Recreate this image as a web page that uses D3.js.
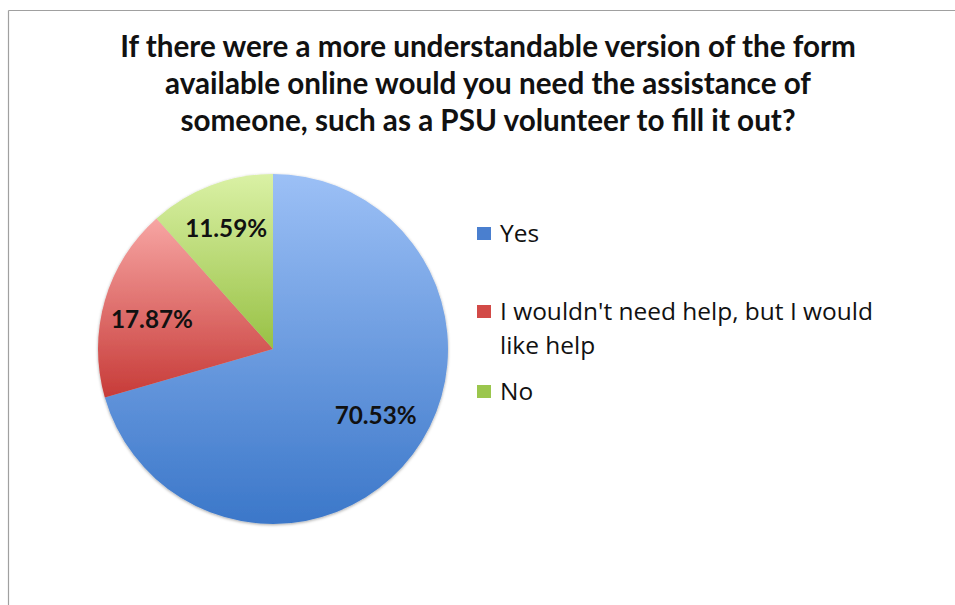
<!DOCTYPE html>
<html><head><meta charset="utf-8">
<script src="https://cdn.jsdelivr.net/npm/d3@7"></script>
<style>body{margin:0;background:#fff}svg{display:block}</style>
</head><body>
<script>
const categories = ["Yes", "I wouldn't need help, but I would like help", "No"];
const values = [70.53, 17.87, 11.59];
const labels = ["70.53%", "17.87%", "11.59%"];
const legendLines = [["Yes"], ["I wouldn't need help, but I would", "like help"], ["No"]];
const titleLines = ["If there were a more understandable version of the form",
  "available online would you need the assistance of",
  "someone, such as a PSU volunteer to fill it out?"];
const colorsLight = ["#9cc0f6", "#f7a5a3", "#daf1a5"];
const colorsDark = ["#3b77c9", "#c73b38", "#98c145"];
const colorsLegend = ["#4a7fcf", "#d24a47", "#9bc64d"];

const W = 955, H = 605;
const svg = d3.select("body").append("svg").attr("width", W).attr("height", H);
const defs = svg.append("defs");
const font = "Lato, 'Open Sans', sans-serif";
const font2 = "'Open Sans', Lato, sans-serif";

function fitSize(sel, base, target) {
  const w = sel.node().getComputedTextLength();
  return base * target / w;
}

// frame
svg.append("line").attr("x1", 8.5).attr("y1", 10.5).attr("x2", W).attr("y2", 10.5).attr("stroke", "#a0a0a0").attr("stroke-width", 1.2);
svg.append("line").attr("x1", 8.5).attr("y1", 10.5).attr("x2", 8.5).attr("y2", H).attr("stroke", "#a0a0a0").attr("stroke-width", 1.2);

// title
const titleY = [57, 94, 131];
const tg = svg.append("g");
titleLines.forEach((t, i) => {
  tg.append("text").attr("x", 488).attr("y", titleY[i]).attr("text-anchor", "middle")
    .attr("font-family", font).attr("font-weight", "bold").attr("font-size", 25).attr("fill", "#111").text(t);
});
const tsz = fitSize(tg.select("text"), 25, 736);
tg.selectAll("text").attr("font-size", tsz);

// pie
const cx = 273, cy = 349, R = 175;
const filter = defs.append("filter").attr("id", "sh").attr("x", "-10%").attr("y", "-10%").attr("width", "120%").attr("height", "120%");
filter.append("feDropShadow").attr("dx", 0).attr("dy", 1).attr("stdDeviation", 1.5).attr("flood-color", "#000").attr("flood-opacity", 0.35);

values.forEach((v, i) => {
  const g = defs.append("linearGradient").attr("id", "g" + i)
    .attr("x1", 0).attr("y1", 0).attr("x2", 0).attr("y2", 1);
  g.append("stop").attr("offset", "0%").attr("stop-color", colorsLight[i]);
  g.append("stop").attr("offset", "100%").attr("stop-color", colorsDark[i]);
});

const pie = d3.pie().sort(null).value(d => d)(values);
const arc = d3.arc().innerRadius(0).outerRadius(R);
const labelArc = d3.arc().innerRadius(R * 0.72).outerRadius(R * 0.72);
const pg = svg.append("g").attr("transform", `translate(${cx},${cy})`);
pg.append("g").attr("filter", "url(#sh)").selectAll("path").data(pie).join("path")
  .attr("d", arc).attr("fill", (d, i) => `url(#g${i})`);
const labelNudge = [[2, -10], [0, 5], [-2, -3]];
const lbls = pg.selectAll("text.lbl").data(pie).join("text").attr("class", "lbl")
  .attr("transform", (d, i) => { const c = labelArc.centroid(d); return `translate(${c[0] + labelNudge[i][0]},${c[1] + labelNudge[i][1]})`; })
  .attr("text-anchor", "middle").attr("dy", "0.36em")
  .attr("font-family", font).attr("font-weight", "bold").attr("font-size", 21).attr("fill", "#111")
  .text((d, i) => labels[i]);
lbls.attr("font-size", fitSize(lbls.filter((d, i) => i === 2), 21, 82));

// legend
const legY = [233, 311, 391];
const lg = svg.append("g");
legendLines.forEach((lines, i) => {
  lg.append("rect").attr("x", 477).attr("y", legY[i] - 6).attr("width", 14).attr("height", 13).attr("fill", colorsLegend[i]);
  lines.forEach((t, j) => {
    lg.append("text").attr("class", "leg" + i + "_" + j).attr("x", 500).attr("y", legY[i] + j * 34).attr("dy", "0.36em")
      .attr("font-family", font2).attr("font-size", 21).attr("fill", "#111").text(t);
  });
});
lg.selectAll("text").attr("font-size", fitSize(lg.select(".leg1_0"), 21, 373));
</script>
</body></html>
